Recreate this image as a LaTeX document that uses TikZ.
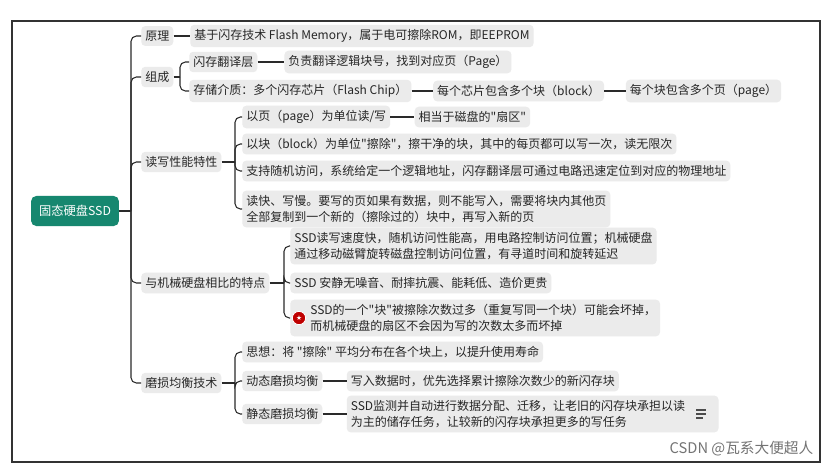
\documentclass[tikz,border=0pt]{standalone}
\usepackage{fontspec}
\newfontfamily\cjk{Noto Sans CJK SC}
\newfontfamily\djv{DejaVu Sans}
\definecolor{boxgray}{HTML}{EBEBEB}
\definecolor{teal1}{HTML}{16876F}
\definecolor{linec}{HTML}{2A2A2A}
\begin{document}
\begin{tikzpicture}[x=0.75pt,y=-0.75pt,
  box/.style={fill=boxgray, rounded corners=3pt, inner xsep=3pt, inner ysep=3.5pt, anchor=west, align=left,
    font=\cjk\fontsize{9}{12}\selectfont, text=black!85},
  conn/.style={draw=linec, line width=0.8pt},
  br/.style={draw=linec, line width=0.8pt, rounded corners=4pt}]
\useasboundingbox (0,0) rectangle (829,469);
\fill[white] (0,0) rectangle (829,469);
\draw[line width=1pt, black!80] (12,21) rectangle (820,462);
% root
\node[fill=teal1, rounded corners=4pt, text=white, font=\cjk\fontsize{9.2}{11}\selectfont,
  inner xsep=6pt, inner ysep=7pt] (root) at (75,211) {固态硬盘SSD};
% level 1
\node[box] (yl) at (141,36) {原理};
\node[box] (zc) at (141,77) {组成};
\node[box] (rw) at (141,162) {读写性能特性};
\node[box] (cmp) at (141,283) {与机械硬盘相比的特点};
\node[box] (mo) at (141,383) {磨损均衡技术};
\coordinate (t0) at (131,211);
\draw[conn] (root.east) -- (t0);
\foreach \n in {yl,zc,rw,cmp,mo} \draw[br] (t0) |- (\n.west);
% 原理
\node[box] (l1) at (190,36) {基于闪存技术 Flash Memory，属于电可擦除ROM，即EEPROM};
\draw[conn] (yl.east) -- (l1.west);
% 组成
\node[box] (z1) at (189,62) {闪存翻译层};
\node[box] (z1a) at ([xshift=20]z1.east) {负责翻译逻辑块号，找到对应页（Page）};
\node[box] (z2) at (189,91) {存储介质：多个闪存芯片（Flash Chip）};
\node[box] (z2a) at ([xshift=16]z2.east) {每个芯片包含多个块（block）};
\node[box] (z2b) at ([xshift=16]z2a.east) {每个块包含多个页（page）};
\coordinate (zj) at (180,77);
\draw[conn] (zc.east) -- (zj);
\foreach \n in {z1,z2} \draw[br] (zj) |- (\n.west);
\draw[conn] (z1.east) -- (z1a.west);
\draw[conn] (z2.east) -- (z2a.west);
\draw[conn] (z2a.east) -- (z2b.west);
% 读写
\node[box] (r1) at (242,117) {以页（page）为单位读/写};
\node[box] (r1a) at ([xshift=18]r1.east) {相当于磁盘的"扇区"};
\node[box] (r2) at (242,144) {以块（block）为单位"擦除"，擦干净的块，其中的每页都可以写一次，读无限次};
\node[box] (r3) at (242,171) {支持随机访问，系统给定一个逻辑地址，闪存翻译层可通过电路迅速定位到对应的物理地址};
\node[box] (r4) at (242,209) {读快、写慢。要写的页如果有数据，则不能写入，需要将块内其他页\\全部复制到一个新的（擦除过的）块中，再写入新的页};
\coordinate (rj) at (235,162);
\draw[conn] (rw.east) -- (rj);
\foreach \n in {r1,r2,r3,r4} \draw[br] (rj) |- (\n.west);
\draw[conn] (r1.east) -- (r1a.west);
% 比较
\node[box] (c1) at (290,246) {SSD读写速度快，随机访问性能高，用电路控制访问位置；机械硬盘\\通过移动磁臂旋转磁盘控制访问位置，有寻道时间和旋转延迟};
\node[box] (c2) at (290,283) {SSD 安静无噪音、耐摔抗震、能耗低、造价更贵};
\node[box] (c3) at (290,318) {\hspace*{12pt}SSD的一个"块"被擦除次数过多（重复写同一个块）可能会坏掉，\\\hspace*{12pt}而机械硬盘的扇区不会因为写的次数太多而坏掉};
\coordinate (cj) at (284,283);
\draw[conn] (cmp.east) -- (cj);
\foreach \n in {c1,c2,c3} \draw[br] (cj) |- (\n.west);
\node[circle, fill=red!75!black, draw=white, line width=0.6pt, inner sep=0pt, minimum size=10pt,
  text=white, font=\djv\fontsize{5}{5}\selectfont] (star) at (299,318) {★};
% 磨损
\node[box] (m1) at (242,352) {思想：将 "擦除" 平均分布在各个块上，以提升使用寿命};
\node[box] (m2) at (242,381) {动态磨损均衡};
\node[box] (m2a) at ([xshift=18]m2.east) {写入数据时，优先选择累计擦除次数少的新闪存块};
\node[box] (m3) at (242,414) {静态磨损均衡};
\node[box] (m3a) at ([xshift=18]m3.east) {SSD监测并自动进行数据分配、迁移，让老旧的闪存块承担以读\hspace*{22pt}\\为主的储存任务，让较新的闪存块承担更多的写任务};
\coordinate (eq) at ([xshift=-13]m3a.east);
\coordinate (mj) at (235,383);
\draw[conn] (mo.east) -- (mj);
\foreach \n in {m1,m2,m3} \draw[br] (mj) |- (\n.west);
\draw[conn] (m2.east) -- (m2a.west);
\draw[conn] (m3.east) -- (m3a.west);
\draw[black!70, line width=0.8pt] (eq) ++(-5,-4) -- ++(10,0) ++(-10,4) -- ++(10,0) ++(-10,4) -- ++(7,0);
% credit
\node[text=black!55, font=\cjk\fontsize{11}{13}\selectfont, anchor=east] (cr) at (818,449) {CSDN @瓦系大便超人};
\end{tikzpicture}
\end{document}
